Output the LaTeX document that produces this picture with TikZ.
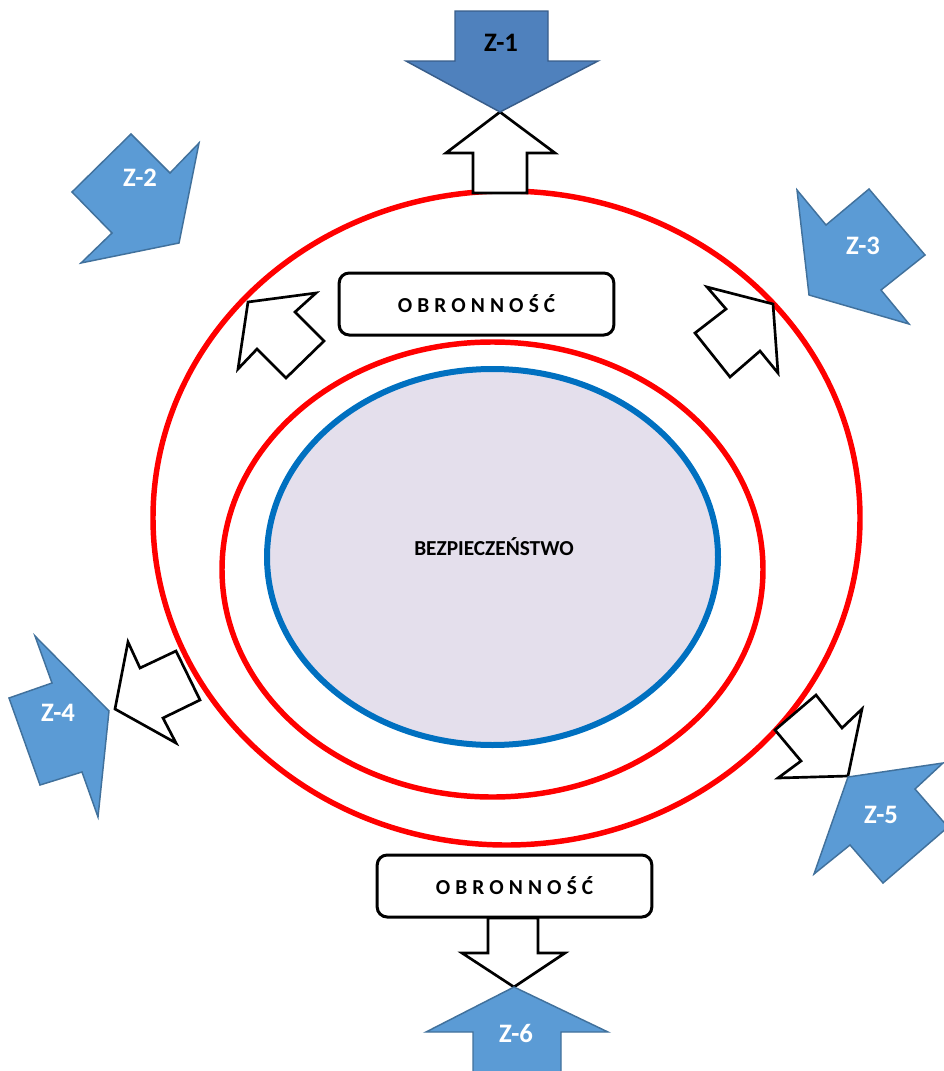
\documentclass[tikz,border=0pt]{standalone}
\usepackage{fontspec}
\setmainfont{Carlito}
\newfontfamily\spacedfont[LetterSpace=24]{Carlito}
\usepackage{xcolor}
\usepackage{tikz}
\definecolor{threatfill}{HTML}{5B9BD5}
\definecolor{threatline}{HTML}{41719C}
\definecolor{darkfill}{HTML}{4F81BD}
\definecolor{darkline}{HTML}{385D8A}
\definecolor{ringred}{HTML}{FF0000}
\definecolor{coreblue}{HTML}{0070C0}
\definecolor{corefill}{HTML}{E4DFEC}

\tikzset{
  threat/.style={fill=threatfill,draw=threatline,line width=1.1pt,line join=miter},
  threatdark/.style={fill=darkfill,draw=darkline,line width=1.1pt,line join=miter},
  outward/.style={fill=white,draw=black,line width=2pt,line join=miter},
  zlabel/.style={font=\fontsize{20}{22}\selectfont\bfseries,text=white},
  obrbox/.style={draw=black,fill=white,line width=2.25pt,rounded corners=7.5pt,
    minimum width=206pt,minimum height=46.5pt,
    font=\spacedfont\fontsize{16}{18}\selectfont\bfseries}
}

\begin{document}
\begin{tikzpicture}[x=0.75pt,y=-0.75pt]
        \useasboundingbox (0,0) rectangle (944,1071);
        \clip (0,0) rectangle (944,1071);

        % rings
        \draw[ringred,line width=4.1pt] (506.5,518) ellipse [x radius=353.5, y radius=327];
        \draw[ringred,line width=4.1pt] (492.5,569.5) ellipse [x radius=270.5, y radius=227.5];
        \draw[coreblue,fill=corefill,line width=4.5pt] (492.5,557) ellipse [x radius=225.5, y radius=188];
        \node[font=\fontsize{16}{18}\selectfont\bfseries] (core) at (494,547) {BEZPIECZEŃSTWO};

        % defence boxes
        \node[obrbox] (obrtop) at (476.5,304) {OBRONNOŚĆ};
        \node[obrbox] (obrbot) at (514.5,886) {OBRONNOŚĆ};

        % outward arrows
        \draw[outward] (500,112) -- (555,153) -- (527,153) -- (527,193)
          -- (473,193) -- (473,153) -- (446,153) -- cycle;
        \draw[outward] (248,302) -- (316,293) -- (295,312) -- (324,341)
          -- (286,378) -- (257,349) -- (238,369) -- cycle;
        \draw[outward] (773,304) -- (778,373) -- (760,351) -- (730,377)
          -- (695,333) -- (726,309) -- (707,287) -- cycle;
        \draw[outward] (115,709) -- (176,743) -- (163,718) -- (200,700)
          -- (176,651) -- (140,668) -- (128,642) -- cycle;
        \draw[outward] (848,776) -- (778,778) -- (801,761) -- (775,730)
          -- (816,695) -- (842,728) -- (862,709) -- cycle;
        \draw[outward] (488,918) -- (538,918) -- (538,953) -- (565,953)
          -- (514,987) -- (462,953) -- (488,953) -- cycle;

        % threats
        \draw[threatdark] (455,11) -- (548,11) -- (548,61) -- (598,61)
          -- (500,112) -- (406,61) -- (455,61) -- cycle;
        \node[zlabel,text=black] (z1) at (501,43) {Z-1};

        \draw[threat] (179,243) -- (81,263) -- (112,233) -- (72,192)
          -- (131,134) -- (170,173) -- (199,143) -- cycle;
        \node[zlabel] (z2) at (140,178) {Z-2};

        \draw[threat] (809,295) -- (909,324) -- (881,290) -- (925,255)
          -- (869,189) -- (826,225) -- (797,190) -- cycle;
        \node[zlabel] (z3) at (863,246) {Z-3};

        \draw[threat] (109,711) -- (98,817) -- (82,772) -- (40,785)
          -- (9,698) -- (52,683) -- (35,636) -- cycle;
        \node[zlabel] (z4) at (58,713) {Z-4};

        \draw[threat] (848,777) -- (943,763) -- (915,789) -- (948,827)
          -- (883,883) -- (850,845) -- (814,874) -- cycle;
        \node[zlabel] (z5) at (881,815) {Z-5};

        \draw[threat] (514,987) -- (608,1032) -- (561,1032) -- (561,1085)
          -- (473,1085) -- (473,1032) -- (426,1032) -- cycle;
        \node[zlabel] (z6) at (516,1033) {Z-6};
\end{tikzpicture}
\end{document}
